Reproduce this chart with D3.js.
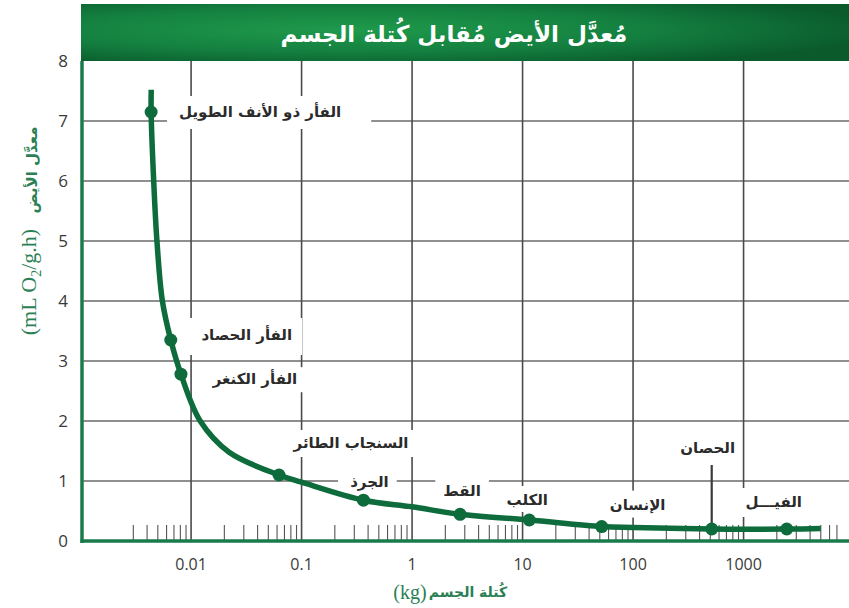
<!DOCTYPE html>
<html>
<head>
<meta charset="utf-8">
<script src="https://cdn.jsdelivr.net/npm/d3@7"></script>
<style>
  html, body { margin: 0; padding: 0; background: #fff; }
  svg { display: block; }
</style>
</head>
<body>
<svg id="chart" width="849" height="608"></svg>
<script>
// ---------- DATA ----------
const animals = ["الفأر ذو الأنف الطويل", "الفأر الحصاد", "الفأر الكنغر", "السنجاب الطائر", "الجرذ", "القط", "الكلب", "الإنسان", "الحصان", "الفيـــل"];
const massKg  = [0.00435, 0.00655, 0.0081, 0.0625, 0.363, 2.72, 11.5, 52, 515, 2460];
const rate    = [7.15, 3.35, 2.78, 1.1, 0.68, 0.445, 0.35, 0.24, 0.2, 0.2];

// curve (mass kg, rate)
const curveMass = [0.00436, 0.00435, 0.00459, 0.00491, 0.0055, 0.00655, 0.0081, 0.0121, 0.0221, 0.0625, 0.1, 0.363, 1, 2.72, 11.5, 52, 100, 515, 2460, 5000];
const curveRate = [7.52, 7.15, 6.0, 5.0, 4.0, 3.35, 2.78, 2.0, 1.48, 1.1, 0.98, 0.68, 0.57, 0.445, 0.35, 0.24, 0.225, 0.2, 0.2, 0.21];

const xMajorTicks = [0.01, 0.1, 1, 10, 100, 1000];
const xTickLabels = ["0.01", "0.1", "1", "10", "100", "1000"];
const yTicks = [0, 1, 2, 3, 4, 5, 6, 7, 8];

const title = "مُعدَّل الأيض مُقابل كُتلة الجسم";
const yTitleAr = "معدَّل الأيض";
const xTitleAr = "كُتلة الجسم";

// ---------- LAYOUT ----------
const L = 82, R = 849, T = 61, B = 541;
const svg = d3.select("#chart");
const x = d3.scaleLog().domain([0.00103, 9000]).range([L, R]);
const y = d3.scaleLinear().domain([0, 8]).range([B, T]);

const GREEN = "#0d6b3c";
const AXISGREEN = "#1b7a4c";
const LABELGREEN = "#2a7f55";

// label layout offsets (px relative to point) and box paddings
const labelLayout = [
  {dx: 109, dy: 0,   pl: 12, pr: 30, pt: 16, pb: 17},
  {dx: 76,  dy: -5,  pl: 12, pr: 10, pt: 17, pb: 20},
  {dx: 74,  dy: 5,   pl: 12, pr: 8,  pt: 12, pb: 13},
  {dx: 72,  dy: -32, pl: 8,  pr: 8,  pt: 13, pb: 14},
  {dx: 6,   dy: -18, pl: 12, pr: 8,  pt: 12, pb: 12},
  {dx: 2,   dy: -24, pl: 8,  pr: 8,  pt: 13, pb: 13},
  {dx: -2,  dy: -20, pl: 6,  pr: 6,  pt: 14, pb: 12},
  {dx: 36,  dy: -22, pl: 6,  pr: 6,  pt: 14, pb: 13},
  {dx: -4,  dy: -81, pl: 6,  pr: 6,  pt: 15, pb: 10},
  {dx: -13, dy: -27, pl: 6,  pr: 6,  pt: 14, pb: 15}
];

// ---------- BANNER ----------
const defs = svg.append("defs");
const rg = defs.append("radialGradient").attr("id", "bannerGrad")
  .attr("cx", "35%").attr("cy", "45%").attr("r", "70%");
rg.append("stop").attr("offset", "0%").attr("stop-color", "#1f9a4b");
rg.append("stop").attr("offset", "55%").attr("stop-color", "#148040");
rg.append("stop").attr("offset", "100%").attr("stop-color", "#0a5a2b");
svg.append("rect").attr("x", L - 1).attr("y", 4).attr("width", R - L + 1).attr("height", T - 4)
  .attr("fill", "url(#bannerGrad)");
svg.append("text").attr("x", 454).attr("y", 34).attr("dy", "0.35em")
  .attr("text-anchor", "middle").attr("fill", "#fff")
  .attr("font-family", "DejaVu Sans, sans-serif").attr("font-weight", "bold").attr("font-size", 23)
  .attr("direction", "rtl").text(title);

// ---------- GRID ----------
const grid = svg.append("g");
grid.selectAll("line.h").data(yTicks.filter(d => d > 0 && d < 8)).join("line")
  .attr("x1", L).attr("x2", R).attr("y1", d => y(d)).attr("y2", d => y(d))
  .attr("stroke", "#6a6a6a").attr("stroke-width", 1.4);
grid.selectAll("line.v").data(xMajorTicks).join("line")
  .attr("x1", d => x(d)).attr("x2", d => x(d)).attr("y1", T).attr("y2", B)
  .attr("stroke", "#4a4a4a").attr("stroke-width", 1.6);

// minor ticks along the bottom
const minor = x.ticks().filter(d => {
  const m = d / Math.pow(10, Math.floor(Math.log10(d) + 1e-9));
  return Math.abs(m - 1) > 1e-6 && d >= 0.0029 && d <= 7100;
});
grid.selectAll("line.m").data(minor).join("line")
  .attr("x1", d => x(d)).attr("x2", d => x(d)).attr("y1", B - 16).attr("y2", B)
  .attr("stroke", "#555").attr("stroke-width", 1.1);

// ---------- LABEL BOXES + TEXT ----------
const pts = animals.map((a, i) => ({name: a, m: massKg[i], r: rate[i], lay: labelLayout[i]}));
const lbl = svg.append("g");
pts.forEach(p => {
  const px = x(p.m), py = y(p.r);
  const cx = px + p.lay.dx, cy = py + p.lay.dy;
  const g = lbl.append("g");
  const rect = g.append("rect").attr("fill", "#fff");
  const t = g.append("text").attr("x", cx).attr("y", cy).attr("dy", "0.35em")
    .attr("text-anchor", "middle").attr("direction", "rtl")
    .attr("font-family", "DejaVu Sans, sans-serif").attr("font-weight", "bold")
    .attr("font-size", 15).attr("fill", "#2b2b2b").text(p.name);
  const bb = t.node().getBBox();
  rect.attr("x", bb.x - p.lay.pl).attr("width", bb.width + p.lay.pl + p.lay.pr)
    .attr("y", cy - p.lay.pt).attr("height", p.lay.pt + p.lay.pb);
});
// pointer for the horse
{
  const i = 8;
  const px = x(massKg[i]), py = y(rate[i]);
  lbl.append("line").attr("x1", px).attr("x2", px)
    .attr("y1", py + labelLayout[i].dy + 17).attr("y2", py)
    .attr("stroke", "#3a3a3a").attr("stroke-width", 2.2);
}

// ---------- AXES ----------
svg.append("line").attr("x1", L).attr("x2", L).attr("y1", T).attr("y2", B + 2)
  .attr("stroke", AXISGREEN).attr("stroke-width", 3.5);
svg.append("line").attr("x1", L - 1.5).attr("x2", R).attr("y1", B).attr("y2", B)
  .attr("stroke", AXISGREEN).attr("stroke-width", 3.5);

svg.append("g").selectAll("text").data(yTicks).join("text")
  .attr("x", 68).attr("y", d => y(d)).attr("dy", "0.36em").attr("text-anchor", "end")
  .attr("font-family", "Open Sans, sans-serif").attr("font-size", 17).attr("fill", "#3a3a3a")
  .text(d => d);
svg.append("g").selectAll("text").data(xMajorTicks).join("text")
  .attr("x", d => x(d)).attr("y", 564).attr("dy", "0.36em").attr("text-anchor", "middle")
  .attr("font-family", "Open Sans, sans-serif").attr("font-size", 16).attr("fill", "#3a3a3a")
  .text((d, i) => xTickLabels[i]);

// x title
svg.append("text").attr("x", 410).attr("y", 592).attr("dy", "0.35em").attr("text-anchor", "middle")
  .attr("font-family", "Liberation Serif, serif").attr("font-size", 20).attr("fill", LABELGREEN)
  .text("(kg)");
svg.append("text").attr("x", 468).attr("y", 592).attr("dy", "0.35em").attr("text-anchor", "middle")
  .attr("direction", "rtl")
  .attr("font-family", "DejaVu Sans, sans-serif").attr("font-weight", "bold").attr("font-size", 14).attr("fill", LABELGREEN)
  .text(xTitleAr);

// y title (rotated)
const yt = svg.append("text").attr("transform", "translate(28,282) rotate(-90)")
  .attr("text-anchor", "middle").attr("dy", "0.35em")
  .attr("font-family", "Liberation Serif, serif").attr("font-size", 22).attr("fill", LABELGREEN);
yt.append("tspan").text("(mL O");
yt.append("tspan").attr("font-size", 14).attr("dy", 5).text("2");
yt.append("tspan").attr("dy", -5).text("/g.h)");
svg.append("text").attr("transform", "translate(32,170) rotate(-90)")
  .attr("text-anchor", "middle").attr("dy", "0.35em").attr("direction", "rtl")
  .attr("font-family", "DejaVu Sans, sans-serif").attr("font-weight", "bold").attr("font-size", 15).attr("fill", LABELGREEN)
  .text(yTitleAr);

// ---------- CURVE + POINTS ----------
const curvePts = curveMass.map((m, i) => [x(m), y(curveRate[i])]);
svg.append("path").attr("d", d3.line().curve(d3.curveCatmullRom.alpha(0.5))(curvePts))
  .attr("fill", "none").attr("stroke", GREEN).attr("stroke-width", 5.5)
  .attr("stroke-linecap", "butt");
svg.append("g").selectAll("circle").data(pts).join("circle")
  .attr("cx", d => x(d.m)).attr("cy", d => y(d.r)).attr("r", 6.5).attr("fill", GREEN);
</script>
</body>
</html>
